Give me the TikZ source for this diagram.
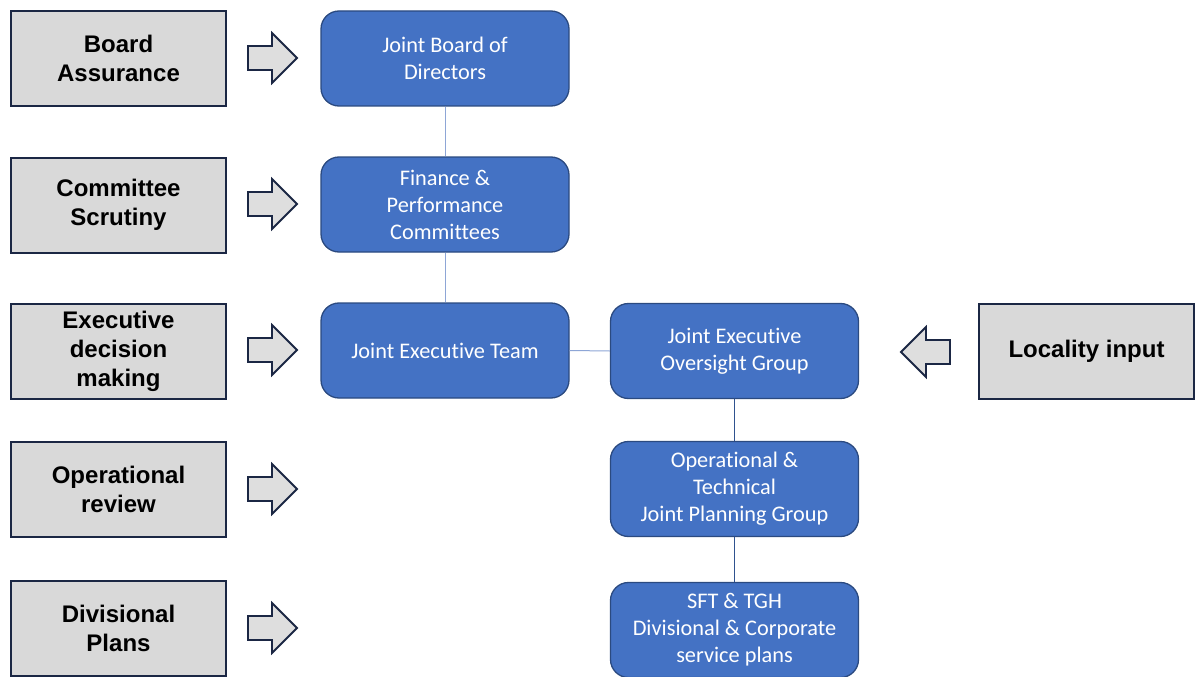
\documentclass[tikz,border=0pt]{standalone}
\usepackage{fontspec}
\setmainfont{Carlito}[Ligatures=NoCommon]
\newfontfamily\labelfont{Liberation Sans}
\begin{document}
\begin{tikzpicture}[x=1pt,y=-1pt,
  levelbox/.style={draw=levelline,line width=2pt,fill=levelfill,
    minimum width=215pt,minimum height=95pt,inner sep=0pt,align=center,
    font=\labelfont\bfseries\fontsize{24}{29}\selectfont,text=black},
  groupbox/.style={draw=groupline,line width=1.3pt,fill=groupfill,rounded corners=18pt,
    minimum width=248pt,minimum height=95pt,inner sep=0pt,align=center,
    font=\fontsize{22.3}{27}\selectfont,text=white},
  link/.style={line width=1pt},
  blockarrow/.style={draw=levelline,line width=1.8pt,fill=arrowfill,line join=miter},
  rarr/.pic={\draw[blockarrow] (0,-12) -- (24,-12) -- (24,-25) -- (49,0) -- (24,25) -- (24,12) -- (0,12) -- cycle;},
  larr/.pic={\draw[blockarrow] (0,-12) -- (-24,-12) -- (-24,-25) -- (-49,0) -- (-24,25) -- (-24,12) -- (0,12) -- cycle;}
]
\definecolor{levelline}{HTML}{1B2744}
\definecolor{levelfill}{HTML}{D9D9D9}
\definecolor{arrowfill}{HTML}{DEDEDE}
\definecolor{groupline}{HTML}{2B4A80}
\definecolor{groupfill}{HTML}{4472C4}
\definecolor{lightlink}{HTML}{8EA6D6}
\definecolor{darklink}{HTML}{2F528F}

\useasboundingbox (0,0) rectangle (1195,677);
\clip (0,0) rectangle (1195,677);
\fill[white] (0,0) rectangle (1195,677);

% governance levels on the left
\node[levelbox] (board) at (118.5,58.5) {Board\\Assurance};
\node[levelbox] (scrutiny) at (118.5,205) {Committee\\Scrutiny};
\node[levelbox] (exec) at (118.5,351) {Executive\\decision\\making};
\node[levelbox] (review) at (118.5,489) {Operational\\review};
\node[levelbox] (plans) at (118.5,628) {Divisional\\Plans};

% block arrows into the structure
\pic at (248,58) {rarr};
\pic at (248,204) {rarr};
\pic at (248,350) {rarr};
\pic at (248,489) {rarr};
\pic at (248,628) {rarr};

% main chain
\node[groupbox] (jbd) at (445,58.5) {Joint Board of\\Directors};
\node[groupbox] (fpc) at (445,204.5) {Finance \&\\Performance\\Committees};
\node[groupbox] (jet) at (445,350.5) {Joint Executive Team};

% oversight chain
\node[groupbox] (jeog) at (734.5,351) {Joint Executive\\Oversight Group};
\node[groupbox] (otjpg) at (734.5,489) {Operational \&\\Technical\\Joint Planning Group};
\node[groupbox] (plansbox) at (734.5,630) {SFT \& TGH\\Divisional \& Corporate\\service plans};

% locality input
\node[levelbox] (locality) at (1086.5,351.5) {Locality input};
\pic at (950,352) {larr};

% connectors
\draw[link,lightlink] (jbd.south) -- (fpc.north);
\draw[link,lightlink] (fpc.south) -- (jet.north);
\draw[link,lightlink] (jet.east) -- (jeog.west);
\draw[link,darklink] (jeog.south) -- (otjpg.north);
\draw[link,darklink] (otjpg.south) -- (plansbox.north);
\end{tikzpicture}
\end{document}
